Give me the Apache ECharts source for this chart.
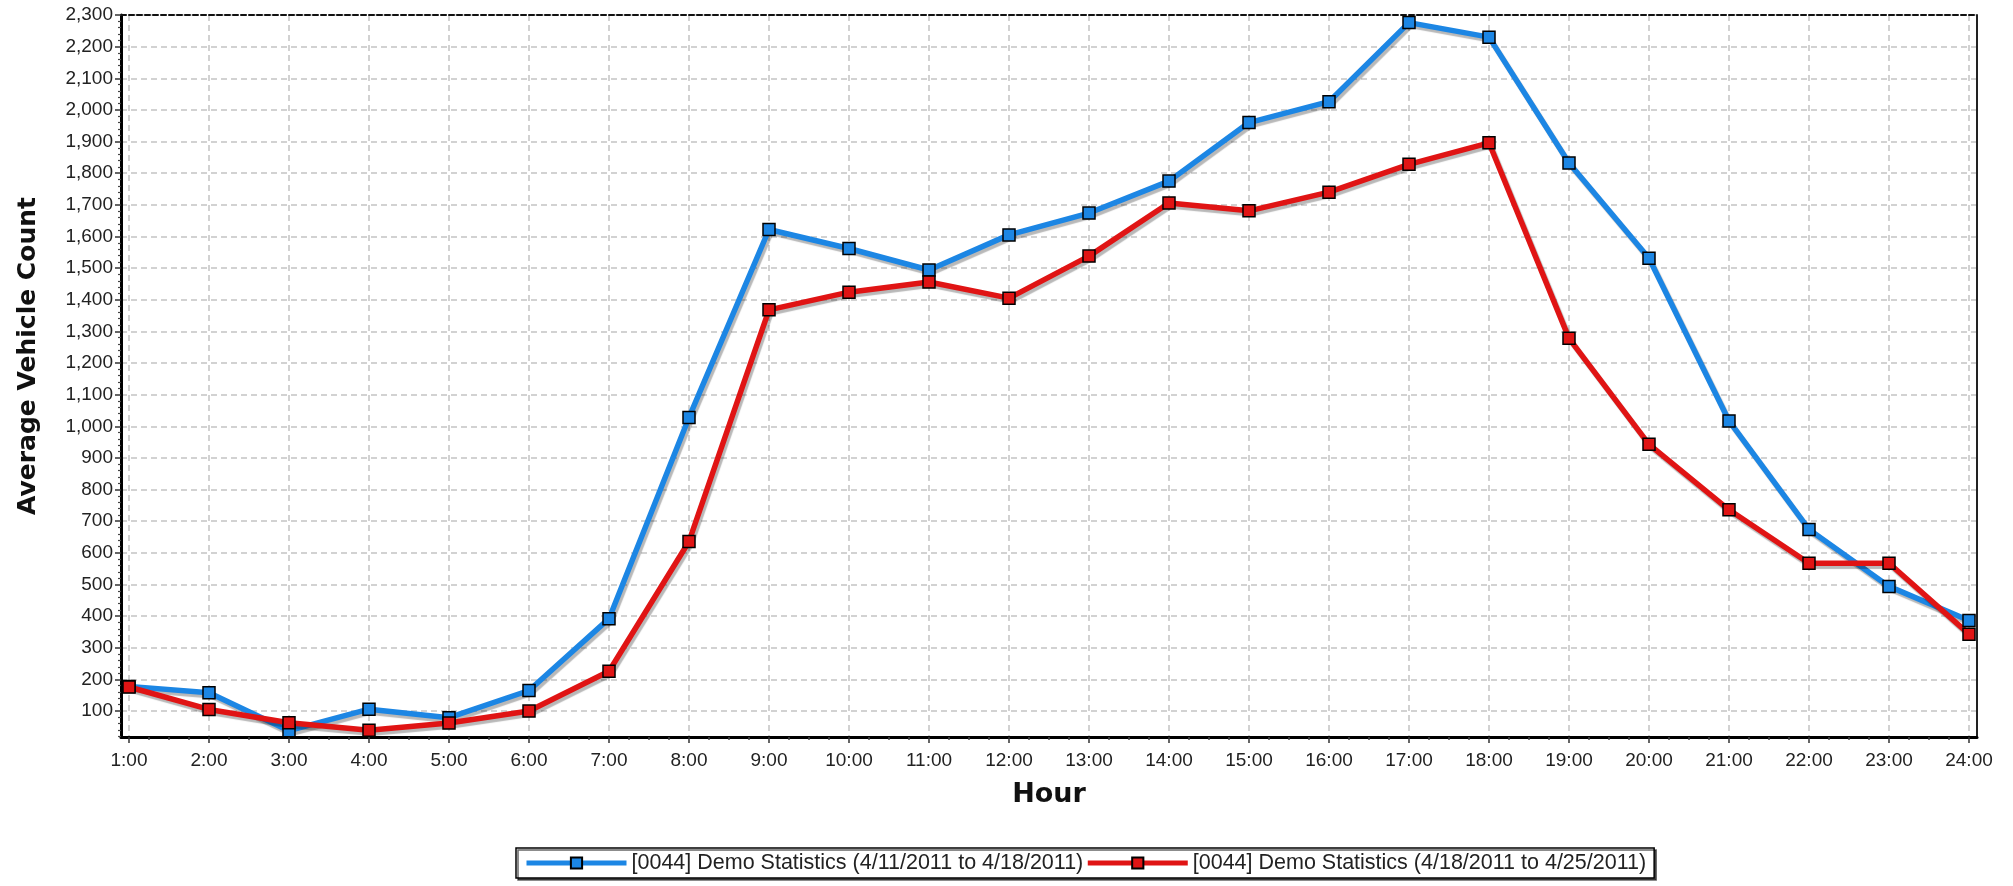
<!DOCTYPE html>
<html><head><meta charset="utf-8">
<script src="https://cdn.jsdelivr.net/npm/echarts@6/dist/echarts.min.js"></script>
<style>html,body{margin:0;padding:0;background:#fff}#c{width:2013px;height:886px}</style>
</head><body><div id="c"></div>
<script>
// ---- data ----
const hours = [1,2,3,4,5,6,7,8,9,10,11,12,13,14,15,16,17,18,19,20,21,22,23,24];
const hourLabels = ['1:00','2:00','3:00','4:00','5:00','6:00','7:00','8:00','9:00','10:00','11:00','12:00','13:00','14:00','15:00','16:00','17:00','18:00','19:00','20:00','21:00','22:00','23:00','24:00'];
const yTickValues = [100,200,300,400,500,600,700,800,900,1000,1100,1200,1300,1400,1500,1600,1700,1800,1900,2000,2100,2200,2300];
const seriesNames = ['[0044] Demo Statistics (4/11/2011 to 4/18/2011)', '[0044] Demo Statistics (4/18/2011 to 4/25/2011)'];
const week1 = [178,158,38,106,79,165,392,1028,1622,1562,1494,1605,1674,1775,1960,2026,2276,2230,1832,1531,1017,674,494,386];
const week2 = [176,105,63,39,62,100,226,636,1368,1424,1456,1405,1538,1706,1681,1740,1828,1896,1278,943,736,567,567,343];
const yMin = 18, yMax = 2300;
const xMin = 0.9, xMax = 24.1;

const FONT = "'Liberation Sans', Arial, sans-serif";
const TFONT = "'DejaVu Sans', 'Liberation Sans', sans-serif";
const minorX = [];
hours.forEach(h => { [0.25,0.5,0.75].forEach(f => { if (h + f < xMax) minorX.push(h + f); }); });
const minorY = [];
for (let v = 20; v <= yMax; v += 20) if (v % 100 !== 0) minorY.push(v);

const chart = echarts.init(document.getElementById('c'), null, {renderer: 'canvas'});
function mk(data, color, name) {
  return {
    name: name, type: 'line', xAxisIndex: 0, yAxisIndex: 0,
    data: data.map((v, i) => [hours[i], v]),
    symbol: 'rect', symbolSize: 12,
    itemStyle: {color: color, borderColor: '#000', borderWidth: 1.5},
    lineStyle: {color: color, width: 5.5, shadowColor: 'rgba(0,0,0,0.28)', shadowOffsetX: 2, shadowOffsetY: 3, shadowBlur: 1},
    emphasis: {disabled: true}, animation: false, clip: false, z: 5
  };
}
chart.setOption({
  animation: false,
  backgroundColor: '#fff',
  textStyle: {fontFamily: FONT},
  grid: {left: 121, right: 36, top: 15, bottom: 149},
  legend: {
    data: seriesNames,
    left: 516, top: 848,
    padding: [4, 8, 4, 8],
    itemGap: 2, itemWidth: 100, itemHeight: 14,
    lineStyle: {width: 5},
    backgroundColor: '#fff', borderColor: '#000', borderWidth: 1.5,
    shadowColor: 'rgba(0,0,0,0.6)', shadowOffsetX: 2, shadowOffsetY: 2, shadowBlur: 0,
    textStyle: {fontSize: 21.5, color: '#222', fontFamily: FONT}
  },
  xAxis: [
    {type: 'value', position: 'bottom', min: xMin, max: xMax,
     name: 'Hour', nameLocation: 'middle', nameGap: 44,
     nameTextStyle: {fontSize: 27, fontWeight: 'bold', color: '#111', fontFamily: TFONT},
     axisLine: {show: true, onZero: false, lineStyle: {color: '#000', width: 3}},
     axisTick: {show: true, length: 6, customValues: hours, lineStyle: {color: '#333', width: 1.5}},
     axisLabel: {customValues: hours, formatter: v => hourLabels[hours.indexOf(Math.round(v))], fontSize: 19, color: '#222', margin: 14, fontFamily: FONT},
     splitLine: {show: true, lineStyle: {color: '#c4c4c4', type: [6, 4], width: 1.5}}},
    {type: 'value', position: 'bottom', min: xMin, max: xMax,
     axisLine: {show: false}, axisLabel: {show: false}, splitLine: {show: false},
     axisTick: {show: true, length: 3, customValues: minorX, lineStyle: {color: '#444', width: 1.5}}},
    {type: 'value', position: 'top', min: xMin, max: xMax,
     axisLine: {show: true, lineStyle: {color: '#111', width: 2, type: [5, 3]}},
     axisTick: {show: false}, axisLabel: {show: false}, splitLine: {show: false}}
  ],
  yAxis: [
    {type: 'value', position: 'left', min: yMin, max: yMax,
     name: 'Average Vehicle Count', nameLocation: 'middle', nameGap: 80,
     nameTextStyle: {fontSize: 25, fontWeight: 'bold', color: '#111', fontFamily: TFONT, padding: [0, 0, 0, 40]},
     axisLine: {show: true, onZero: false, lineStyle: {color: '#000', width: 3}},
     axisTick: {show: true, length: 6, customValues: yTickValues, lineStyle: {color: '#333', width: 1.5}},
     axisLabel: {customValues: yTickValues, formatter: v => Math.round(v).toLocaleString('en-US'), fontSize: 19, color: '#222', margin: 8, fontFamily: FONT},
     splitLine: {show: true, lineStyle: {color: '#c4c4c4', type: [6, 4], width: 1.5}}},
    {type: 'value', position: 'left', min: yMin, max: yMax,
     axisLine: {show: false}, axisLabel: {show: false}, splitLine: {show: false},
     axisTick: {show: true, length: 3, customValues: minorY, lineStyle: {color: '#444', width: 1.2}}},
    {type: 'value', position: 'right', min: yMin, max: yMax,
     axisLine: {show: true, lineStyle: {color: '#222', width: 2}},
     axisTick: {show: false}, axisLabel: {show: false}, splitLine: {show: false}}
  ],
  series: [mk(week1, '#1c86e4', seriesNames[0]), mk(week2, '#e01414', seriesNames[1])]
});
</script></body></html>
